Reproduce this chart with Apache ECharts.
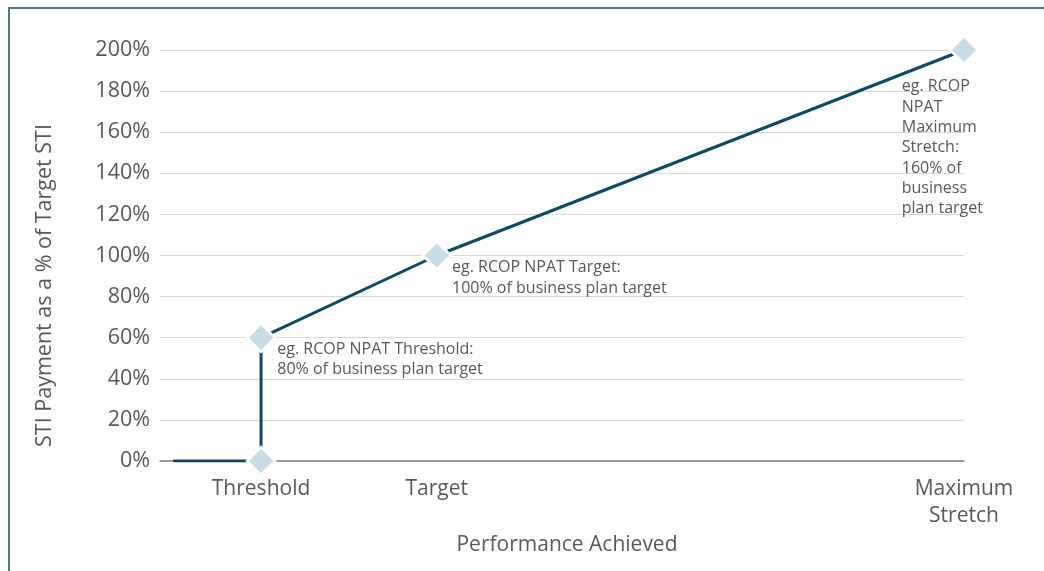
<!DOCTYPE html>
<html>
<head>
<meta charset="utf-8">
<script src="https://cdn.jsdelivr.net/npm/echarts@6/dist/echarts.min.js"></script>
<style>
  html, body { margin: 0; padding: 0; background: #fff; }
  #chart { width: 1044px; height: 571px; }
</style>
</head>
<body>
<div id="chart"></div>
<script>
// Payout curve: performance achieved (% of plan) vs STI payment (% of target STI)
const perfValues = [70, 80, 80, 100, 160];
const payoutValues = [0, 0, 60, 100, 200];
const showMarker = [false, true, true, true, true];
const noteLabels = [
  '',
  '',
  'eg. RCOP NPAT Threshold:\n80% of business plan target',
  'eg. RCOP NPAT Target:\n100% of business plan target',
  'eg. RCOP\nNPAT\nMaximum\nStretch:\n160% of\nbusiness\nplan target'
];
const xTickValues = [80, 100, 160];
const xTickLabels = ['Threshold', 'Target', 'Maximum\nStretch'];

const textColor = '#595959';
const fontFamily = '"Open Sans", "Noto Sans", sans-serif';

// where each note sits relative to its marker
const notePlacement = {
  2: { position: 'right', distance: 1, verticalAlign: 'top', offset: [0, 1] },
  3: { position: 'right', distance: 0, verticalAlign: 'top', offset: [0, 2] },
  4: { position: [-47, 42], align: 'left', verticalAlign: 'top', lineHeight: 20.3 }
};

const seriesData = perfValues.map((x, i) => {
  const item = { value: [x, payoutValues[i]] };
  if (!showMarker[i]) item.symbol = 'none';
  if (noteLabels[i]) {
    item.label = Object.assign({
      show: true,
      formatter: noteLabels[i],
      color: textColor,
      fontSize: 16,
      lineHeight: 20.5,
      fontFamily: fontFamily
    }, notePlacement[i]);
  }
  return item;
});

const chart = echarts.init(document.getElementById('chart'), null, { renderer: 'canvas' });
chart.setOption({
  animation: false,
  backgroundColor: '#fff',
  graphic: [{
    type: 'rect',
    shape: { x: 9, y: 8, width: 1060, height: 600 },
    style: { fill: 'none', stroke: '#4a7a8a', lineWidth: 2 },
    silent: true,
    z: 100
  }],
  grid: { left: 160, right: 80, top: 50, bottom: 110, containLabel: false },
  xAxis: {
    type: 'value',
    min: 68.5,
    max: 160,
    name: 'Performance Achieved',
    nameLocation: 'middle',
    nameGap: 58,
    nameTextStyle: { color: textColor, fontSize: 21, fontFamily: fontFamily, padding: [0, 0, 0, 10] },
    axisLine: { show: true, onZero: true, lineStyle: { color: '#7f7f7f', width: 1.5 } },
    axisTick: { show: false },
    splitLine: { show: false },
    axisLabel: {
      customValues: xTickValues,
      formatter: (v) => xTickLabels[xTickValues.indexOf(v)] || '',
      color: textColor,
      fontSize: 21,
      lineHeight: 27,
      margin: 15,
      fontFamily: fontFamily
    }
  },
  yAxis: {
    type: 'value',
    min: 0,
    max: 200,
    interval: 20,
    name: 'STI Payment as a % of Target STI',
    nameLocation: 'middle',
    nameGap: 104,
    nameTextStyle: { color: textColor, fontSize: 21.5, fontFamily: fontFamily, padding: [0, 60, 0, 0] },
    axisLine: { show: false },
    axisTick: { show: false },
    splitLine: { show: true, lineStyle: { color: '#d9d9d9', width: 1 } },
    axisLabel: {
      formatter: '{value}%',
      color: textColor,
      fontSize: 21.5,
      margin: 10,
      fontFamily: fontFamily
    }
  },
  series: [{
    type: 'line',
    data: seriesData,
    symbol: 'diamond',
    symbolSize: 28,
    showAllSymbol: true,
    lineStyle: { color: '#0d4a63', width: 3 },
    itemStyle: { color: '#c9dde6', borderColor: '#ffffff', borderWidth: 2.5 },
    z: 3
  }]
});
</script>
</body>
</html>
